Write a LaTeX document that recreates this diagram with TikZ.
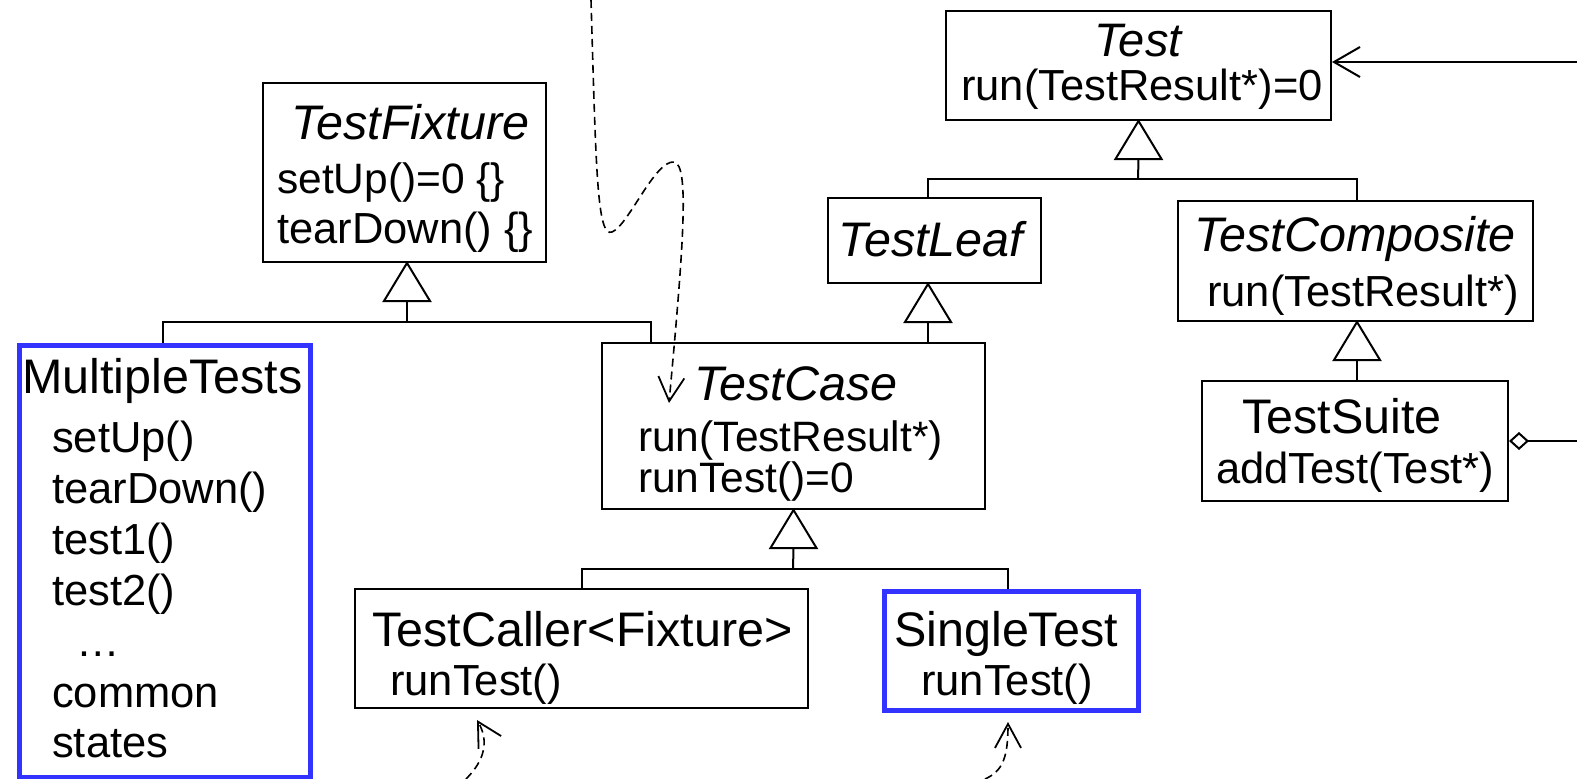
\documentclass[tikz,border=0pt]{standalone}
\usepackage{fontspec}
\setmainfont{Liberation Sans}
\usetikzlibrary{arrows.meta,calc}
\definecolor{umlblue}{RGB}{51,51,255}
\begin{document}
\begin{tikzpicture}[x=1pt,y=-1pt,
  box/.style={draw=black, line width=2pt, inner sep=0pt, anchor=north west},
  bluebox/.style={draw=umlblue, line width=5pt, inner sep=0pt, anchor=north west},
  nm/.style={font=\fontsize{48.5}{48.5}\selectfont, inner sep=0pt},
  mt/.style={font=\fontsize{43.5}{43.5}\selectfont, inner sep=0pt},
  mts/.style={font=\fontsize{42.5}{42.5}\selectfont, inner sep=0pt},
  ln/.style={line width=2pt},
  tri/.style={line width=2pt, fill=white, line join=miter},
  dep/.style={line width=1.6pt, dash pattern=on 8pt off 5pt,
    -{Straight Barb[length=24pt,width=26pt,line width=1.8pt]}},
]
\useasboundingbox (0,0) rectangle (1577,779);

% boxes
\node[box, minimum width=385pt, minimum height=109pt] (test) at (945,10) {};
\node[box, minimum width=213pt, minimum height=85pt] (leaf) at (827,197) {};
\node[box, minimum width=355pt, minimum height=120pt] (comp) at (1177,200) {};
\node[box, minimum width=306pt, minimum height=120pt] (suite) at (1201,380) {};
\node[box, minimum width=283pt, minimum height=179pt] (fix) at (262,82) {};
\node[bluebox, minimum width=291pt, minimum height=432pt] (multi) at (17,343) {};
\node[box, minimum width=383pt, minimum height=166pt] (tcase) at (601,342) {};
\node[box, minimum width=453pt, minimum height=119pt] (caller) at (354,588) {};
\node[bluebox, minimum width=254pt, minimum height=119pt] (single) at (882,589) {};

% texts
\node[nm, anchor=base] (testN) at (1138,56) {\fontsize{47}{47}\selectfont\itshape Test};
\node[mt, anchor=base west] (testM) at (961,100) {run(TestResult*)=0};
\node[nm, anchor=base] (leafN) at (931,256) {\itshape TestLeaf};
\node[nm, anchor=base west] (compN) at (1194,251) {\itshape TestComposite};
\node[mt, anchor=base west] (compM) at (1207,306) {run(TestResult*)};
\node[nm, anchor=base west] (suiteN) at (1242,433) {TestSuite};
\node[mt, anchor=base west] (suiteM) at (1216,483) {addTest(Test*)};
\node[nm, anchor=base west] (fixN) at (291,139) {\itshape TestFixture};
\node[mts, anchor=base west] (fixM1) at (277,193) {setUp()=0 \{\}};
\node[mt, anchor=base west] (fixM2) at (277,243) {tearDown() \{\}};
\node[nm, anchor=base west] (multiN) at (22,393) {MultipleTests};
\node[mt, anchor=base west] (multiM1) at (52,452) {setUp()};
\node[mt, anchor=base west] (multiM2) at (52,503) {tearDown()};
\node[mt, anchor=base west] (multiM3) at (52,554) {test1()};
\node[mt, anchor=base west] (multiM4) at (52,605) {test2()};
\node[mt, anchor=base west] (multiM5) at (76,656) {…};
\node[mt, anchor=base west] (multiM6) at (52,707) {common};
\node[mt, anchor=base west] (multiM7) at (52,757) {states};
\node[nm, anchor=base west] (tcaseN) at (694,400) {\itshape TestCase};
\node[mts, anchor=base west] (tcaseM1) at (638,451) {run(TestResult*)};
\node[mts, anchor=base west] (tcaseM2) at (638,492) {runTest()=0};
\node[nm, anchor=base west] (callerN) at (372,646) {TestCaller<Fixture>};
\node[mt, anchor=base west] (callerM) at (390,695) {runTest()};
\node[nm, anchor=base west] (singleN) at (894,646) {SingleTest};
\node[mt, anchor=base west] (singleM) at (921,695) {runTest()};

% generalisation connectors
\coordinate (xL) at (928,0);
\coordinate (xC) at (1357,0);
\coordinate (xF) at (407,0);
\coordinate (xM) at (163,0);
\coordinate (xTC) at (651,0);
\coordinate (xCl) at (582,0);
\coordinate (xS) at (1008,0);
\coordinate (jT) at (1138,179);
\coordinate (jF) at (407,322);
\coordinate (jC) at (793,569);

\draw[tri] (test.south) -- ++(-23,38) -- ++(46,0) -- cycle;
\draw[ln] ($(test.south)+(0,38)$) -- (jT);
\draw[ln] (leaf.north -| xL) |- (jT) -| (comp.north -| xC);

\draw[tri] (leaf.south -| xL) -- ++(-23,38) -- ++(46,0) -- cycle;
\draw[ln] ($(leaf.south -| xL)+(0,38)$) -- (tcase.north -| xL);

\draw[tri] (comp.south -| xC) -- ++(-23,38) -- ++(46,0) -- cycle;
\draw[ln] ($(comp.south -| xC)+(0,38)$) -- (suite.north -| xC);

\draw[tri] (fix.south -| xF) -- ++(-23,38) -- ++(46,0) -- cycle;
\draw[ln] ($(fix.south -| xF)+(0,38)$) -- (jF);
\draw[ln] (multi.north -| xM) |- (jF) -| (tcase.north -| xTC);

\draw[tri] (tcase.south) -- ++(-23,38) -- ++(46,0) -- cycle;
\draw[ln] ($(tcase.south)+(0,38)$) -- (jC);
\draw[ln] (caller.north -| xCl) |- (jC) -| (single.north -| xS);

% association and aggregation
\coordinate (eR) at (1577,62);
\draw[ln, -{Straight Barb[length=26pt,width=30pt,line width=2pt]}] (eR) -- (test.east |- eR);
\coordinate (eD) at (1577,441);
\draw[ln, -{Diamond[open,length=20pt,width=18pt,line width=2pt]}] (eD) -- (suite.east |- eD);

% dashed dependencies
\coordinate (d1s) at (591,0);
\coordinate (d1e) at (669,403);
\draw[dep] (d1s) .. controls (596,170) and (597,238) .. (612,232)
  .. controls (628,226) and (655,160) .. (674,162)
  .. controls (690,164) and (683,250) .. (d1e);
\coordinate (d2s) at (466,779);
\coordinate (d2e) at (477,720);
\draw[dep] (d2s) .. controls (485,760) and (489,741) .. (d2e);
\coordinate (d3s) at (985,779);
\coordinate (d3e) at (1008,722);
\draw[dep] (d3s) .. controls (1003,771) and (1008,757) .. (d3e);
\end{tikzpicture}
\end{document}
